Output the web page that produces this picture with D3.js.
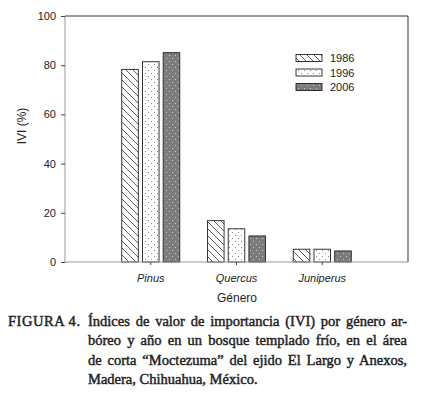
<!DOCTYPE html>
<html><head><meta charset="utf-8">
<script src="https://cdn.jsdelivr.net/npm/d3@7"></script>
<style>body{margin:0;background:#fff}svg{display:block}</style>
</head><body>
<svg id="c" width="424" height="400"></svg>
<script>
const categories = ["Pinus", "Quercus", "Juniperus"];
const years = ["1986", "1996", "2006"];
const values1986 = [78.3, 16.8, 5.2];
const values1996 = [81.4, 13.5, 5.2];
const values2006 = [85.1, 10.6, 4.5];
const yTicks = [0, 20, 40, 60, 80, 100];
const captionLines = [
  "Índices de valor de importancia (IVI) por género ar-",
  "bóreo y año en un bosque templado frío, en el área",
  "de corta “Moctezuma” del ejido El Largo y Anexos,",
  "Madera, Chihuahua, México."
];

const series = [values1986, values1996, values2006];
const svg = d3.select("#c");
const L = 65, R = 408, T = 16, B = 262;
const sans = "Liberation Sans, Arial, sans-serif";

// patterns
const defs = svg.append("defs");
const p1 = defs.append("pattern").attr("id","p1986").attr("patternUnits","userSpaceOnUse")
  .attr("width",7).attr("height",7);
p1.append("rect").attr("width",7).attr("height",7).attr("fill","#fff");
p1.append("path").attr("d","M-1,-1 L8,8 M-8,-1 L1,8 M6,-1 L15,8").attr("stroke","#333").attr("stroke-width",0.8);
const p2 = defs.append("pattern").attr("id","p1996").attr("patternUnits","userSpaceOnUse")
  .attr("width",6).attr("height",6);
p2.append("rect").attr("width",6).attr("height",6).attr("fill","#fff");
p2.append("rect").attr("x",1).attr("y",1).attr("width",1).attr("height",1).attr("fill","#888");
p2.append("rect").attr("x",4).attr("y",4).attr("width",1).attr("height",1).attr("fill","#888");
const p3 = defs.append("pattern").attr("id","p2006").attr("patternUnits","userSpaceOnUse")
  .attr("width",6).attr("height",6);
p3.append("rect").attr("width",6).attr("height",6).attr("fill","#7c7c7c");
p3.append("rect").attr("x",1).attr("y",1).attr("width",1).attr("height",1).attr("fill","#c8c8c8");
p3.append("rect").attr("x",4).attr("y",4).attr("width",1).attr("height",1).attr("fill","#c8c8c8");
const fills = ["url(#p1986)","url(#p1996)","url(#p2006)"];

const x0 = d3.scaleBand().domain(categories).range([L, R]).paddingInner(0).paddingOuter(0.5);
const x1 = d3.scaleBand().domain(years).range([-29, 29]).paddingInner(0.2);
const y = d3.scaleLinear().domain([0, 100]).range([B, T]);

// frame top/right
svg.append("path").attr("d",`M${L},${T}H${R}V${B}`).attr("fill","none").attr("stroke","#333").attr("stroke-width",1);

// bars
categories.forEach((c, i) => {
  years.forEach((yr, j) => {
    const v = series[j][i];
    const cx = x0(c) + x0.bandwidth()/2;
    svg.append("rect")
      .attr("x", cx + x1(yr)).attr("y", y(v))
      .attr("width", x1.bandwidth()).attr("height", y(0) - y(v))
      .attr("fill", fills[j]).attr("stroke", "#222").attr("stroke-width", 0.9);
  });
});

// y axis
const ya = svg.append("g").attr("transform",`translate(${L},0)`)
  .call(d3.axisLeft(y).tickValues(yTicks).tickSize(4).tickPadding(5).tickFormat(d3.format("d")));
ya.select(".domain").attr("stroke","#999").attr("d",`M0,${T}V${B}`);
ya.selectAll(".tick line").attr("stroke","#444");
ya.selectAll("text").attr("font-family",sans).attr("font-size",11).attr("fill","#222");

// x axis
const xa = svg.append("g").attr("transform",`translate(0,${B})`)
  .call(d3.axisBottom(x0).tickSize(3).tickPadding(9));
xa.select(".domain").attr("stroke","#999").attr("d",`M${L},0H${R}`);
xa.selectAll(".tick line").attr("stroke","#444");
xa.selectAll("text").attr("font-family",sans).attr("font-size",11).attr("font-style","italic").attr("fill","#222");

// axis titles
svg.append("text").attr("x",237).attr("y",302).attr("text-anchor","middle")
  .attr("font-family",sans).attr("font-size",12).attr("fill","#222").text("Género");
svg.append("text").attr("transform","translate(26,126) rotate(-90)").attr("text-anchor","middle")
  .attr("font-family",sans).attr("font-size",12).attr("fill","#222").text("IVI (%)");

// legend
years.forEach((yr, j) => {
  const yy = 54.5 + j*14.5;
  svg.append("rect").attr("x",296).attr("y",yy).attr("width",26).attr("height",7)
    .attr("fill",fills[j]).attr("stroke","#222").attr("stroke-width",0.9);
  svg.append("text").attr("x",330).attr("y",yy+7.5).attr("font-family",sans).attr("font-size",11)
    .attr("fill","#222").text(yr);
});

// caption
const serif = "Liberation Serif, Times New Roman, serif";
svg.append("text").attr("x",8).attr("y",326).attr("font-family",serif).attr("font-size",14.5)
  .attr("fill","#222").attr("stroke","#222").attr("stroke-width",0.45).attr("textLength",72)
  .attr("lengthAdjust","spacing").text("FIGURA 4.");
captionLines.forEach((ln, k) => {
  const t = svg.append("text").attr("x",88).attr("y",326 + k*19.4).attr("font-family",serif)
    .attr("font-size",14.5).attr("fill","#222").attr("stroke","#222").attr("stroke-width",0.45).text(ln);
  if (k < captionLines.length - 1) {
    const w = t.node().getComputedTextLength();
    const gaps = ln.split(" ").length - 1;
    t.attr("word-spacing", ((407 - 88) - w) / gaps);
  }
});
</script>
</body></html>
